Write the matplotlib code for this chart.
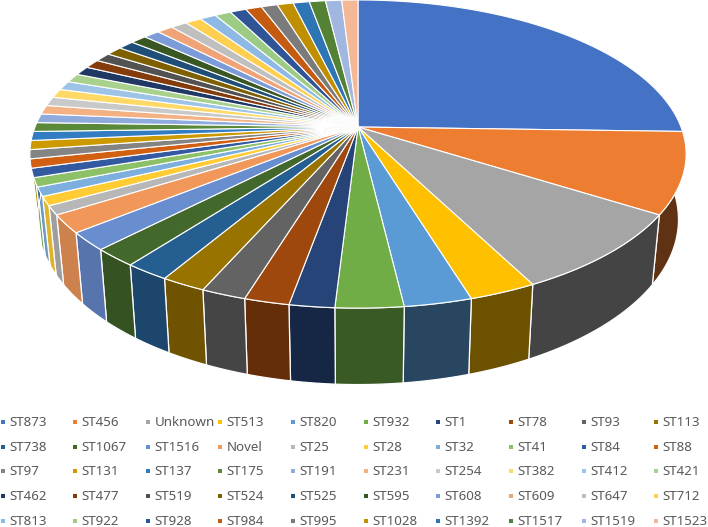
#!/usr/bin/env python3
"""3D pie of sequence types, drawn by hand because matplotlib has no 3D pie."""

import numpy as np
import matplotlib
matplotlib.use("Agg")
import matplotlib.pyplot as plt
from matplotlib.patches import Polygon, Rectangle

# data
labels = ["ST873", "ST456", "Unknown", "ST513", "ST820", "ST932", "ST1", "ST78", "ST93", "ST113",
          "ST738", "ST1067", "ST1516", "Novel", "ST25", "ST28", "ST32", "ST41", "ST84", "ST88",
          "ST97", "ST131", "ST137", "ST175", "ST191", "ST231", "ST254", "ST382", "ST412", "ST421",
          "ST462", "ST477", "ST519", "ST524", "ST525", "ST595", "ST608", "ST609", "ST647", "ST712",
          "ST813", "ST922", "ST928", "ST984", "ST995", "ST1028", "ST1392", "ST1517", "ST1519", "ST1523"]
counts = [27, 9, 9, 3, 3, 3, 2, 2, 2, 2,
          2, 2, 2, 2, 1, 1, 1, 1, 1, 1,
          1, 1, 1, 1, 1, 1, 1, 1, 1, 1,
          1, 1, 1, 1, 1, 1, 1, 1, 1, 1,
          1, 1, 1, 1, 1, 1, 1, 1, 1, 1]
colors = ["#4472C4", "#ED7D31", "#A5A5A5", "#FFC000", "#5B9BD5", "#70AD47",
          "#264478", "#9E480E", "#636363", "#997300", "#255E91", "#43682B",
          "#698ED0", "#F1975A", "#B7B7B7", "#FFCD33", "#7CAFDD", "#8CC168",
          "#335AA1", "#D26012", "#848484", "#CC9A00", "#327DC2", "#5A8A39",
          "#8FAADC", "#F4B183", "#C9C9C9", "#FFD966", "#9DC3E6", "#A9D18E",
          "#1F3864", "#843C0C", "#525252", "#7F6000", "#1F4E79", "#385723",
          "#7C9CD9", "#F1A378", "#BFBFBF", "#FFD050",
          "#8DB9E4", "#9CCB85", "#2F5597", "#C55A11", "#7B7B7B",
          "#BF8F00", "#2E75B6", "#548235", "#A2B7E0", "#F4B896"]

# wall brightness against angle (degrees clockwise from top)
shade_angle = [100, 160, 170, 180, 190, 200, 215, 230, 245, 270]
shade_value = [0.40, 0.42, 0.46, 0.53, 0.60, 0.70, 0.75, 0.84, 0.88, 0.90]

# perspective fit: (half width, half height, centre y) of top and bottom rim
CX = 358
PERSP = 0.1755
TOP = (323, 149.3, 127)
BOTTOM = (315.5, 160, 190.5)


def project(theta, rim):
    a, b, y0 = rim
    xx, yy = np.sin(theta), np.cos(theta)
    w = 1 + PERSP * yy
    return np.column_stack([CX + a * xx / w, y0 - b * yy / w])


def darker(color, f):
    return tuple(c * f for c in matplotlib.colors.to_rgb(color))


fig = plt.figure(figsize=(7.08, 5.27), dpi=100)
ax = fig.add_axes([0, 0, 1, 1])
ax.set_xlim(0, 708)
ax.set_ylim(527, 0)
ax.axis("off")

edges = np.cumsum([0] + counts) / sum(counts) * 2 * np.pi
arcs = []
for i in range(len(counts)):
    n = max(4, int(np.degrees(edges[i + 1] - edges[i]) * 2))
    arcs.append(np.linspace(edges[i], edges[i + 1], n))

# walls first, the top face hides whatever is behind it
for arc, color in zip(arcs, colors):
    mid = np.degrees(arc.mean())
    f = np.interp(mid, shade_angle, shade_value)
    pts = np.vstack([project(arc, TOP), project(arc[::-1], BOTTOM)])
    ax.add_patch(Polygon(pts, closed=True, facecolor=darker(color, f),
                         edgecolor="white", linewidth=0.9, joinstyle="round"))

for arc, color in zip(arcs, colors):
    pts = np.vstack([[CX, TOP[2]], project(arc, TOP)])
    ax.add_patch(Polygon(pts, closed=True, facecolor=color,
                         edgecolor="white", linewidth=0.8, joinstyle="round"))

# legend, five rows of ten
col_x = [3, 75, 148, 220, 293, 366, 438, 511, 584, 656]
row_y = [421.7, 446.7, 471.3, 496, 520.7]
for i, (label, color) in enumerate(zip(labels, colors)):
    x, y = col_x[i % 10], row_y[i // 10]
    ax.add_patch(Rectangle((x - 2, y - 2), 4, 4, facecolor=color, edgecolor="none"))
    ax.text(x + 6.5, y + 0.6, label, fontsize=9.6, color="#595959", family="Noto Sans",
            ha="left", va="center")

fig.savefig("out.png", dpi=100)
